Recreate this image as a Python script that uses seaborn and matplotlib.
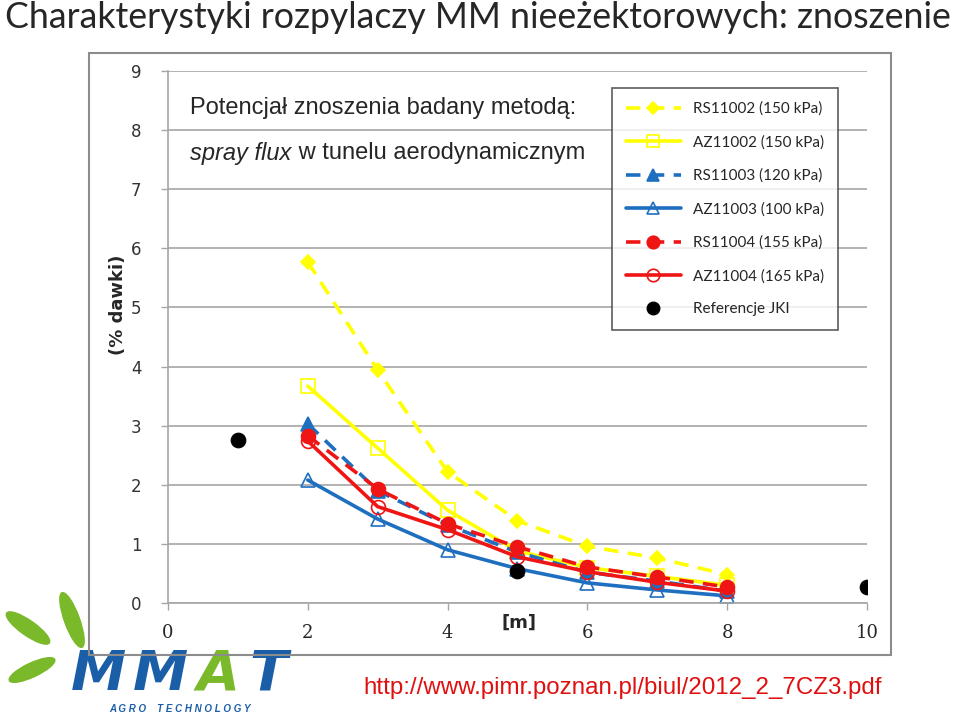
"""
Charakterystyki rozpylaczy - znoszenie (spray flux)
"""

import pandas as pd
import numpy as np
import matplotlib.pyplot as plt
import matplotlib.patches as mpatches
from matplotlib.lines import Line2D
import seaborn as sns

sns.set_style('white')
plt.rcParams['font.family'] = ['Liberation Sans', 'DejaVu Sans']

# ======================== dane ========================
odleglosc = [2, 3, 4, 5, 6, 7, 8]
rs11002 = [5.77, 3.94, 2.22, 1.39, 0.96, 0.76, 0.48]
az11002 = [3.67, 2.62, 1.57, 0.88, 0.60, 0.45, 0.30]
rs11003 = [3.03, 1.90, 1.32, 0.86, 0.52, 0.37, 0.20]
az11003 = [2.08, 1.42, 0.90, 0.58, 0.34, 0.22, 0.12]
rs11004 = [2.83, 1.93, 1.34, 0.95, 0.61, 0.44, 0.27]
az11004 = [2.74, 1.63, 1.24, 0.78, 0.53, 0.35, 0.20]

jki_x = [1, 5, 10]
jki_y = [2.76, 0.54, 0.27]

nazwy = ['RS11002 (150 kPa)', 'AZ11002 (150 kPa)', 'RS11003 (120 kPa)',
         'AZ11003 (100 kPa)', 'RS11004 (155 kPa)', 'AZ11004 (165 kPa)']
serie = [rs11002, az11002, rs11003, az11003, rs11004, az11004]

YELLOW = '#FFFF00'
BLUE = '#1E6FC0'
RED = '#F01515'
dash = (0, (4, 2.6))
styles = [
    dict(color=YELLOW, ls=dash, marker='D', mfc=YELLOW, ms=7),
    dict(color=YELLOW, ls='-', marker='s', mfc='none', ms=10),
    dict(color=BLUE, ls=dash, marker='^', mfc=BLUE, ms=10),
    dict(color=BLUE, ls='-', marker='^', mfc='none', ms=10),
    dict(color=RED, ls=dash, marker='o', mfc=RED, ms=10),
    dict(color=RED, ls='-', marker='o', mfc='none', ms=10),
]

df = pd.DataFrame({'x': odleglosc * len(nazwy),
                   'y': np.concatenate(serie),
                   'seria': np.repeat(nazwy, len(odleglosc))})

fig = plt.figure(figsize=(9.6, 7.14), dpi=100)
ax = fig.add_axes([0.175, 0.1555, 0.728, 0.745])

# ramka wykresu
fig.patches.append(mpatches.Rectangle((89 / 960, 1 - 655 / 714), (891 - 89) / 960, (655 - 53) / 714,
                                      transform=fig.transFigure, fill=False,
                                      edgecolor='#8c8c8c', lw=1.5, zorder=0))

handles = []
for nazwa, st in zip(nazwy, styles):
    sub = df[df['seria'] == nazwa]
    sns.lineplot(data=sub, x='x', y='y', ax=ax, color=st['color'], linestyle=st['ls'],
                 lw=2.6, marker=st['marker'], markersize=st['ms'],
                 markerfacecolor=st['mfc'], markeredgecolor=st['color'],
                 markeredgewidth=1.2, legend=False)
    handles.append(Line2D([], [], color=st['color'], ls=st['ls'], lw=2.6, marker=st['marker'],
                          ms=st['ms'] - 1, mfc=st['mfc'], mec=st['color'], mew=1.2))

sns.scatterplot(x=jki_x, y=jki_y, ax=ax, color='black', s=110, edgecolor='black', zorder=5)
handles.append(Line2D([], [], color='black', ls='none', marker='o', ms=9))

ax.set_xlim(0, 10)
ax.set_ylim(0, 9)
ax.set_xticks(range(0, 11, 2))
ax.set_yticks(range(0, 10))
ax.yaxis.grid(True, color='#a6a6a6', lw=1.2)
ax.xaxis.grid(False)
for s in ['top', 'right']:
    ax.spines[s].set_visible(False)
for s in ['left', 'bottom']:
    ax.spines[s].set_color('#a6a6a6')
    ax.spines[s].set_linewidth(1.2)
ax.tick_params(axis='both', which='both', length=5, color='#a6a6a6', width=1, direction='out',
               bottom=True, left=True)
ax.tick_params(axis='y', labelsize=12, pad=14, labelcolor='#333333')
ax.tick_params(axis='x', labelsize=13, pad=10)
for lab in ax.get_xticklabels():
    lab.set_family('DejaVu Serif')
for lab in ax.get_yticklabels():
    lab.set_family('DejaVu Sans')
ax.set_xlabel('')
ax.set_ylabel('')
ax.set_axisbelow(True)

fig.text(118 / 960, 1 - 305 / 714, '(% dawki)', rotation=90, ha='center', va='center',
         fontsize=13, fontweight='bold', family='DejaVu Sans')
fig.text(519 / 960, 1 - 623 / 714, '[m]', ha='center', va='center',
         fontsize=13, fontweight='bold', family='DejaVu Sans')

leg = ax.legend(handles, nazwy + ['Referencje JKI'], loc='upper right',
                bbox_to_anchor=(0.9585, 0.968), borderaxespad=0, frameon=True, fancybox=False,
                edgecolor='#333333', handlelength=3.6, labelspacing=1.25,
                borderpad=0.9, prop={'family': 'Lato', 'size': 11})
leg.get_frame().set_linewidth(1.2)

ax.text(0.032, 0.93, 'Potencjał znoszenia badany metodą:', transform=ax.transAxes,
        fontsize=17, va='center', ha='left')
t1 = ax.text(0.032, 0.845, 'spray flux', transform=ax.transAxes, fontsize=17,
             va='center', ha='left', style='italic')
ax.annotate(' w tunelu aerodynamicznym', xycoords=t1, xy=(1, 0.5), va='center', ha='left',
            fontsize=17)

fig.text(5 / 960, 1 - 18 / 714, 'Charakterystyki rozpylaczy MM nieeżektorowych: znoszenie',
         fontsize=25.7, ha='left', va='center', family='Lato')
fig.text(882 / 960, 1 - 688 / 714, 'http://www.pimr.poznan.pl/biul/2012_2_7CZ3.pdf',
         fontsize=17.4, ha='right', va='center', color='#E01010')

# logo MMAT (wspolrzedne w pikselach, y=0 -> 590 px)
logo = fig.add_axes([0, 0, 310 / 960, 124 / 714])
logo.set_xlim(0, 310)
logo.set_ylim(124, 0)
logo.axis('off')
for (cx, cy, w, h, ang) in [(28, 38, 52, 15, 35), (72, 30, 58, 15, 70), (32, 80, 50, 14, -25)]:
    logo.add_patch(mpatches.Ellipse((cx, cy), w, h, angle=ang, color='#7AB929'))
for lit, kx, kol in [('M', 98, '#1B5EA8'), ('M', 160, '#1B5EA8'),
                     ('A', 218, '#7AB929'), ('T', 268, '#1B5EA8')]:
    logo.text(kx, 112, lit, color=kol, fontsize=40, fontweight='black', style='italic',
              ha='center', va='bottom', family='DejaVu Sans')
logo.text(180, 119, 'A G R O    T E C H N O L O G Y', color='#1B5EA8', fontsize=7,
          fontweight='bold', style='italic', ha='center', va='center')

fig.savefig('out.png', dpi=100)
